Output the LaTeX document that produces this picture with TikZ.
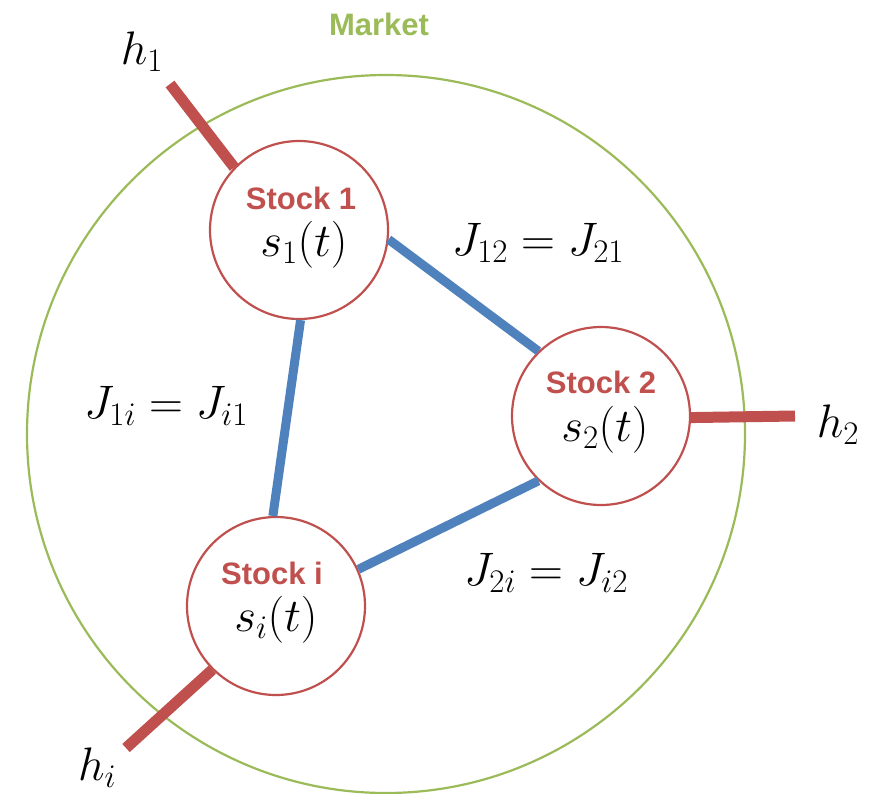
\RequirePackage{fix-cm}
\documentclass[tikz,border=0pt]{standalone}
\usepackage{fontspec}
\setsansfont{Liberation Sans}
\definecolor{mred}{HTML}{C0504D}
\definecolor{mblue}{HTML}{4F81BD}
\definecolor{mgreen}{HTML}{9BBB59}
\tikzset{
  stockcirc/.style={circle, draw=mred, line width=2.2pt, fill=white, minimum size=178pt, inner sep=0pt},
  stocklabel/.style={text=mred, font=\sffamily\bfseries\fontsize{31}{36}\selectfont, inner sep=0pt},
  mathlabel/.style={font=\fontsize{47}{56}\selectfont, inner sep=0pt},
  coupling/.style={draw=mblue, line width=9pt},
  field/.style={draw=mred, line width=11pt},
}
\begin{document}
\begin{tikzpicture}[x=1pt,y=-1pt]
\useasboundingbox (0,0) rectangle (878,793);
\draw[mgreen, line width=2.2pt] (386,434) circle[radius=359pt];
\node[text=mgreen, font=\sffamily\bfseries\fontsize{31}{36}\selectfont, inner sep=0pt] (market) at (379,24) {Market};

\node[stockcirc] (s1) at (299,230) {};
\node[stockcirc] (s2) at (601,416) {};
\node[stockcirc] (si) at (276,606) {};

\coordinate (h1end) at (170,84);
\coordinate (h2end) at (795,416);
\coordinate (hiend) at (126,748);

\draw[field] (s1.136) -- (h1end);
\draw[field] (s2.-1) -- (h2end);
\draw[field] (si.225) -- (hiend);

\draw[coupling] (s1.-6) -- (s2.134);
\draw[coupling] (s1.-89) -- (si.92);
\draw[coupling] (si.24.5) -- (s2.226);

\node[stocklabel] (l1) at (301,198) {Stock 1};
\node[mathlabel] (m1) at (304,245) {$s_1(t)$};
\node[stocklabel] (l2) at (601,382) {Stock 2};
\node[mathlabel] (m2) at (605,430) {$s_2(t)$};
\node[stocklabel] (li) at (272,573) {Stock i};
\node[mathlabel] (mi) at (276,620) {$s_i(t)$};

\node[mathlabel] (h1) at (142,52) {$h_1$};
\node[mathlabel] (h2) at (838,425) {$h_2$};
\node[mathlabel] (hi) at (97,768) {$h_i$};

\node[mathlabel] (j12) at (538,243) {$J_{12}=J_{21}$};
\node[mathlabel] (j1i) at (166,406) {$J_{1i}=J_{i1}$};
\node[mathlabel] (j2i) at (546,573) {$J_{2i}=J_{i2}$};
\end{tikzpicture}
\end{document}
